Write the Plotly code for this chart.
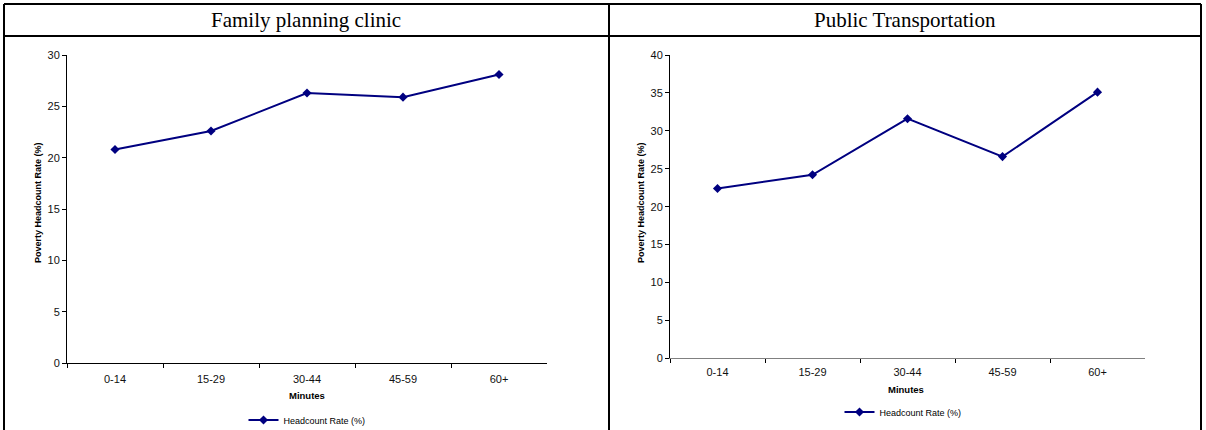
import plotly.graph_objects as go

W, H = 1206, 430

categories = ["0-14", "15-29", "30-44", "45-59", "60+"]
clinic_values = [20.8, 22.6, 26.3, 25.9, 28.1]
transport_values = [22.4, 24.2, 31.6, 26.6, 35.1]
titles = ["Family planning clinic", "Public Transportation"]
series_name = "Headcount Rate (%)"
y_title = "Poverty Headcount Rate (%)"
x_title = "Minutes"


def px(x):
    return x / W


def py(y):
    return 1 - y / H


NAVY = "#000080"
TICKFONT = dict(family="Liberation Sans, Arial", size=11, color="#111111")

fig = go.Figure()
fig.add_trace(go.Scatter(
    x=categories, y=clinic_values, name=series_name, mode="lines+markers",
    line=dict(color=NAVY, width=2), marker=dict(symbol="diamond", size=7, color=NAVY),
    xaxis="x", yaxis="y", legend="legend",
))
fig.add_trace(go.Scatter(
    x=categories, y=transport_values, name=series_name, mode="lines+markers",
    line=dict(color=NAVY, width=2), marker=dict(symbol="diamond", size=7, color=NAVY),
    xaxis="x2", yaxis="y2", legend="legend2",
))

xcommon = dict(
    type="category", range=[-0.5, 4.5], tickson="boundaries", ticks="outside",
    ticklen=4, tickcolor="#000", showline=True, linewidth=1,
    showgrid=False, zeroline=False, tickfont=TICKFONT, fixedrange=True,
    automargin=False,
)
ycommon = dict(
    ticks="outside", ticklen=4, tickcolor="#000", showline=True, linecolor="#000",
    linewidth=1, showgrid=False, zeroline=False, tickfont=TICKFONT, dtick=5,
    fixedrange=True, automargin=False,
)

fig.update_layout(
    width=W, height=H,
    margin=dict(l=0, r=0, t=0, b=0, pad=0, autoexpand=False),
    paper_bgcolor="white", plot_bgcolor="white",
    xaxis=dict(domain=[px(67), px(547)], anchor="y", linecolor="#000",
               ticklabelstandoff=5, **xcommon),
    yaxis=dict(domain=[py(363.3), py(55)], anchor="x", range=[0, 30], **ycommon),
    xaxis2=dict(domain=[px(670), px(1145)], anchor="y2", linecolor="#808080",
                ticklabelstandoff=3, **xcommon),
    yaxis2=dict(domain=[py(358.3), py(55)], anchor="x2", range=[0, 40], **ycommon),
    legend=dict(x=px(307), y=py(420), xanchor="center", yanchor="middle",
                font=dict(family="Liberation Sans, Arial", size=9, color="#000"),
                bgcolor="rgba(0,0,0,0)", itemwidth=30),
    legend2=dict(x=px(903), y=py(412), xanchor="center", yanchor="middle",
                 font=dict(family="Liberation Sans, Arial", size=9, color="#000"),
                 bgcolor="rgba(0,0,0,0)", itemwidth=30),
    showlegend=True,
)

# Table borders
border = dict(color="#000", width=2)
shapes = [
    dict(type="line", xref="paper", yref="paper", x0=px(4), x1=px(1201), y0=py(4), y1=py(4), line=border),
    dict(type="line", xref="paper", yref="paper", x0=px(4), x1=px(1201), y0=py(36), y1=py(36), line=border),
    dict(type="line", xref="paper", yref="paper", x0=px(4), x1=px(4), y0=py(4), y1=py(431), line=border),
    dict(type="line", xref="paper", yref="paper", x0=px(609), x1=px(609), y0=py(4), y1=py(431), line=border),
    dict(type="line", xref="paper", yref="paper", x0=px(1201), x1=px(1201), y0=py(4), y1=py(431), line=border),
]
fig.update_layout(shapes=shapes)

annotations = [
    dict(text=titles[0], x=px(306), y=py(20), xref="paper", yref="paper", showarrow=False,
         xanchor="center", yanchor="middle",
         font=dict(family="Liberation Serif, Times New Roman", size=21, color="#000")),
    dict(text=titles[1], x=px(905), y=py(20), xref="paper", yref="paper", showarrow=False,
         xanchor="center", yanchor="middle",
         font=dict(family="Liberation Serif, Times New Roman", size=21, color="#000")),
    dict(text="<b>" + y_title + "</b>", x=px(38), y=py(203), xref="paper", yref="paper",
         showarrow=False, textangle=-90, xanchor="center", yanchor="middle",
         font=dict(family="Liberation Sans, Arial", size=9, color="#000")),
    dict(text="<b>" + y_title + "</b>", x=px(641), y=py(203), xref="paper", yref="paper",
         showarrow=False, textangle=-90, xanchor="center", yanchor="middle",
         font=dict(family="Liberation Sans, Arial", size=9, color="#000")),
    dict(text="<b>" + x_title + "</b>", x=px(307), y=py(395), xref="paper", yref="paper",
         showarrow=False, xanchor="center", yanchor="middle",
         font=dict(family="Liberation Sans, Arial", size=9.5, color="#000")),
    dict(text="<b>" + x_title + "</b>", x=px(906), y=py(389), xref="paper", yref="paper",
         showarrow=False, xanchor="center", yanchor="middle",
         font=dict(family="Liberation Sans, Arial", size=9.5, color="#000")),
]
fig.update_layout(annotations=annotations)

fig.write_html("out.html")
